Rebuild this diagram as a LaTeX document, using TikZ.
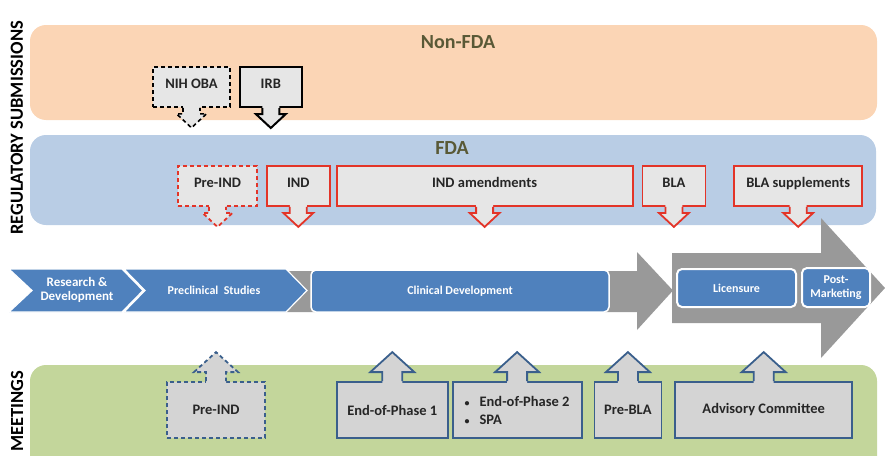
\documentclass[tikz,border=0pt]{standalone}
\usepackage{fontspec}
\setmainfont{Carlito}
\usetikzlibrary{positioning}
\usetikzlibrary{calc}

\definecolor{peach}{RGB}{251,213,181}
\definecolor{fdablue}{RGB}{185,205,229}
\definecolor{meetgreen}{RGB}{195,214,155}
\definecolor{stepblue}{RGB}{79,129,189}
\definecolor{arrowgray}{RGB}{153,153,153}
\definecolor{boxgray}{RGB}{230,230,230}
\definecolor{meetgray}{RGB}{212,212,212}
\definecolor{subred}{RGB}{227,52,40}
\definecolor{meetline}{RGB}{58,95,140}
\definecolor{titleolive}{RGB}{89,89,54}

\begin{document}
\begin{tikzpicture}
    [
    x=1pt, y=-1pt,
    band/.style={rounded corners=16pt},
    bandtitle/.style={font=\fontsize{20}{24}\selectfont\bfseries, text=titleolive},
    sidelabel/.style={rotate=90, font=\fontsize{18.5}{22}\selectfont\bfseries},
    blackline/.style={draw=black, line width=2pt},
    blackdash/.style={draw=black, line width=1.6pt, dash pattern=on 4pt off 3pt},
    redline/.style={draw=subred, line width=1.8pt},
    reddash/.style={redline, dash pattern=on 4pt off 3pt},
    blueline/.style={draw=meetline, line width=1.8pt},
    bluedash/.style={blueline, dash pattern=on 4pt off 3pt},
    subbox/.style={rectangle, fill=boxgray, minimum height=40pt, inner sep=2pt,
        text height=10pt, text depth=6.5pt, text=black!85,
        font=\fontsize{14.5}{16}\selectfont\bfseries},
    meetbox/.style={rectangle, fill=meetgray, minimum height=56pt, inner sep=2pt,
        text=black!85, align=left, font=\fontsize{14.5}{18}\selectfont\bfseries},
    stepbox/.style={rectangle, rounded corners=5pt, fill=stepblue, draw=white,
        line width=1.5pt, text=white, align=center,
        font=\fontsize{12}{14}\selectfont\bfseries},
    steptext/.style={text=white, align=center, font=\fontsize{12}{14.5}\selectfont\bfseries},
    ]

    \useasboundingbox (0,0) rectangle (885,455);

    % the three bands
    \fill[band, peach] (30,25) rectangle (877,120);
    \fill[band, fdablue] (30,135) rectangle (876,225);
    \fill[band, meetgreen] (30,365) rectangle (877,475);

    \node[bandtitle] (t_nonfda) at (458,42) {Non-FDA};
    \node[bandtitle] (t_fda) at (452,148) {FDA};
    \node[sidelabel] (t_regsub) at (17,128) {REGULATORY SUBMISSIONS};
    \node[sidelabel] (t_meet) at (17,411) {MEETINGS};

    % gray arrows behind the steps
    \fill[arrowgray] (286,271) -- (637,271) -- (637,252) -- (673,290.5)
        -- (637,330) -- (637,312) -- (286,312) -- cycle;
    \fill[arrowgray] (672,253) -- (821,253) -- (821,218) -- (885,288)
        -- (821,358) -- (821,323) -- (672,323) -- cycle;

    % development steps
    \filldraw[fill=stepblue, draw=white, line width=1.2pt]
        (9,269) -- (122,269) -- (143,290.5) -- (122,312) -- (9,312) -- (32,290.5) -- cycle;
    \filldraw[fill=stepblue, draw=white, line width=1.2pt]
        (124,269) -- (286,269) -- (307,290.5) -- (286,312) -- (124,312) -- (145,290.5) -- cycle;
    \node[steptext, font=\fontsize{13}{14.5}\selectfont\bfseries] (step_rd) at (77,290) {Research \&\\Development};
    \node[steptext] (step_pre) at (214,290) {Preclinical\ \ Studies};
    \node[stepbox, minimum width=298pt, minimum height=42pt] (step_clin) at (460,291) {Clinical Development};
    \node[stepbox, line width=2pt, minimum width=119pt, minimum height=38pt] (step_lic) at (736.5,288) {Licensure};
    \node[stepbox, line width=2pt, minimum width=68pt, minimum height=39pt] (step_post) at (836,287.5) {Post-\\Marketing};

    % submissions
    \node[subbox, blackdash, minimum width=77pt] (sub_nih) at (191.5,87) {NIH OBA};
    \node[subbox, blackline, minimum width=62pt, right=8pt of sub_nih] (sub_irb) {IRB};

    \node[subbox, reddash, minimum width=79pt] (sub_preind) at (217.5,186) {Pre-IND};
    \node[subbox, redline, minimum width=63pt, right=8pt of sub_preind] (sub_ind) {IND};
    \node[subbox, redline, minimum width=296pt, right=5pt of sub_ind] (sub_indam) {IND amendments};
    \node[subbox, redline, minimum width=63pt, right=8pt of sub_indam] (sub_bla) {BLA};
    \node[subbox, redline, minimum width=128pt, right=27pt of sub_bla] (sub_blasup) {BLA supplements};

    \foreach \n/\ln in {sub_nih/blackdash, sub_irb/blackline, sub_preind/reddash,
        sub_ind/redline, sub_indam/redline, sub_bla/redline, sub_blasup/redline}
    {
        \fill[boxgray] ($(\n.south)+(-8.5,-2.5)$) -- ++(0,8.5) -- ++(-6.5,0) -- ($(\n.south)+(0,20)$)
            -- ($(\n.south)+(15,6)$) -- ++(-6.5,0) -- ++(0,-8.5) -- cycle;
        \draw[\ln] ($(\n.south)+(-8.5,0)$) -- ++(0,6) -- ++(-6.5,0) -- ($(\n.south)+(0,20)$)
            -- ($(\n.south)+(15,6)$) -- ++(-6.5,0) -- ++(0,-6);
    }

    % meetings
    \node[meetbox, bluedash, minimum width=98pt] (meet_preind) at (216,410) {Pre-IND};
    \node[meetbox, blueline, minimum width=111pt, right=70pt of meet_preind] (meet_eop1) {End-of-Phase 1};
    \node[meetbox, blueline, minimum width=129pt, right=3pt of meet_eop1] (meet_eop2)
        {{\fontsize{10}{10}\selectfont\textbullet}\hspace{10pt}End-of-Phase 2\\
         {\fontsize{10}{10}\selectfont\textbullet}\hspace{10pt}SPA};
    \node[meetbox, blueline, minimum width=67pt, right=11pt of meet_eop2] (meet_prebla) {Pre-BLA};
    \node[meetbox, blueline, minimum width=177pt, right=12pt of meet_prebla] (meet_adv) {Advisory Committee};

    \foreach \n/\ln in {meet_preind/bluedash, meet_eop1/blueline, meet_eop2/blueline,
        meet_prebla/blueline, meet_adv/blueline}
    {
        \fill[meetgray] ($(\n.north)+(-10,2.5)$) -- ++(0,-11.5) -- ++(-12,0) -- ($(\n.north)+(0,-29)$)
            -- ($(\n.north)+(22,-9)$) -- ++(-12,0) -- ++(0,11.5) -- cycle;
        \draw[\ln] ($(\n.north)+(-10,0)$) -- ++(0,-9) -- ++(-12,0) -- ($(\n.north)+(0,-29)$)
            -- ($(\n.north)+(22,-9)$) -- ++(-12,0) -- ++(0,9);
    }
\end{tikzpicture}
\end{document}
